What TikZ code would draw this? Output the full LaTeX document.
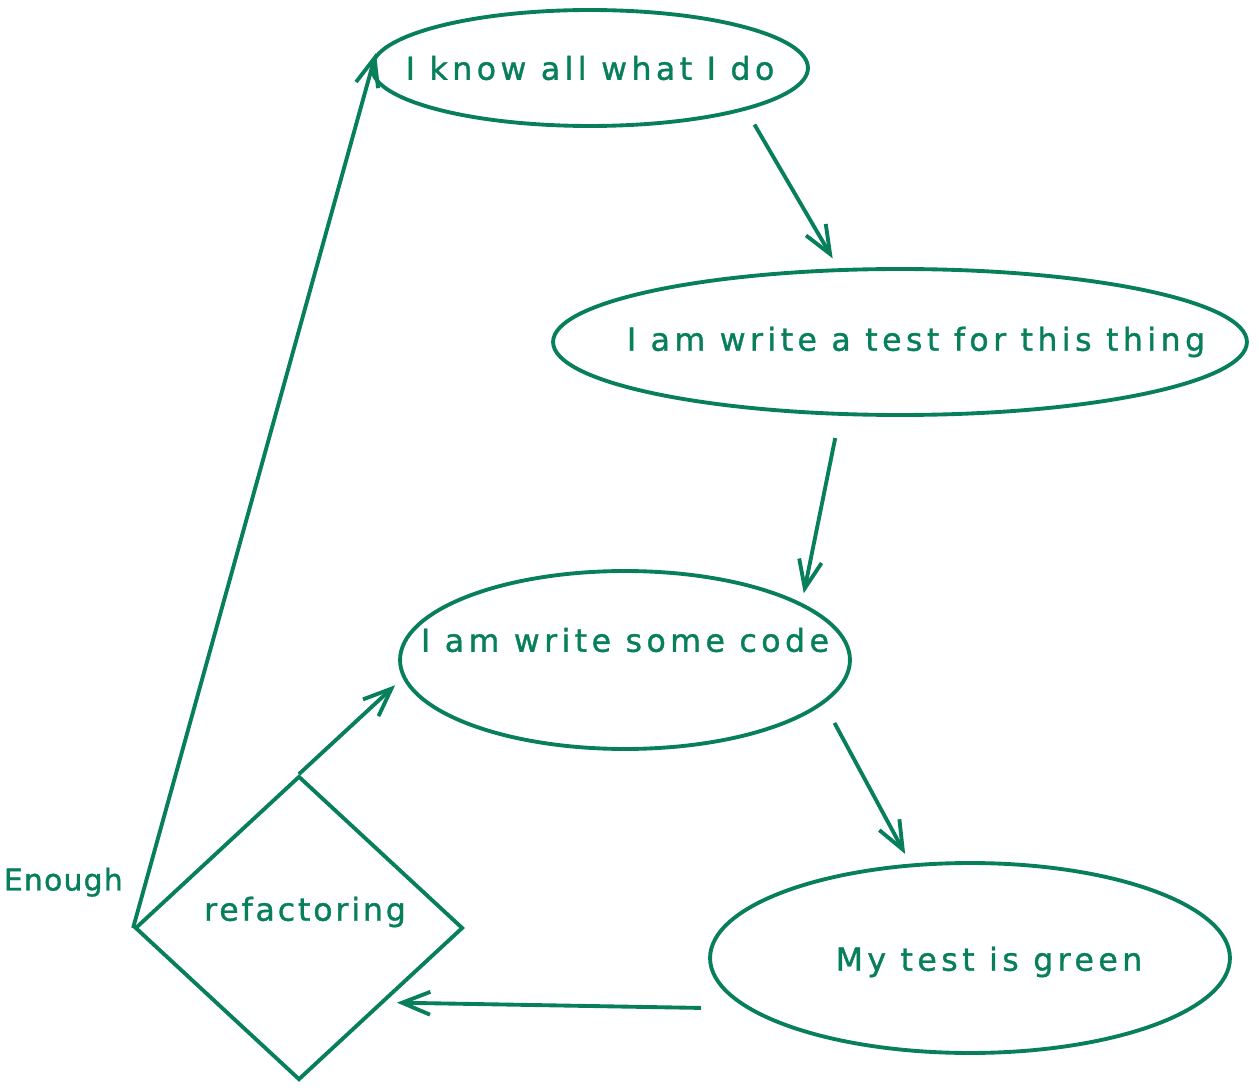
\documentclass[tikz,border=0pt]{standalone}
\usepackage{fontspec}
\setmainfont{DejaVu Sans}[LetterSpace=14, FakeBold=1.2]
\usepackage{tikz}
\usetikzlibrary{shapes, arrows, calc, positioning}
\usetikzlibrary{arrows.meta}
\definecolor{exgreen}{HTML}{087F5B}

\begin{document}
\begin{tikzpicture}[x=0.02cm, y=-0.02cm]

\tikzstyle{txt} = [text=exgreen, font=\fontsize{18}{21}\selectfont]
\tikzstyle{bubble} = [ellipse, draw=exgreen, line width=2.2pt, outer sep=6pt, inner sep=0pt]
\tikzstyle{decision} = [diamond, draw=exgreen, line width=2.2pt, inner sep=0pt]
\tikzstyle{arrow} = [exgreen, line width=2.2pt, -{Straight Barb[length=16pt, width=13pt, line width=2.2pt]}, shorten >=1pt]

\useasboundingbox (0,0) rectangle (1259,1091);

% Make nodes
\node (e1) [bubble, minimum width=8.72cm, minimum height=2.32cm] at (590, 68)
  [label={[txt]center:I know all what I do}] {};
\node (e2) [bubble, minimum width=13.88cm, minimum height=2.92cm] at (900, 342)
  [label={[txt, xshift=0.32cm]center:I am write a test for this thing}] {};
\node (e3) [bubble, minimum width=9cm, minimum height=3.56cm] at (625, 660)
  [label={[txt, yshift=0.4cm]center:I am write some code}] {};
\node (e4) [bubble, minimum width=10.4cm, minimum height=3.8cm] at (970, 958)
  [label={[txt, xshift=0.38cm, yshift=-0.08cm]center:My test is green}] {};
\node (d) [decision, minimum width=6.56cm, minimum height=6.08cm] at (299, 928)
  [label={[txt, xshift=0.12cm, yshift=0.32cm, font=\fontsize{18}{21}\selectfont\addfontfeature{LetterSpace=9}]center:refactoring}] {};

% Loop label
\node (enough) [txt, font=\fontsize{17}{20}\selectfont\addfontfeature{LetterSpace=4},
  anchor=south east, above left=0.62cm and 0.2cm of d.west, inner sep=0pt] {Enough};

% Connect nodes
\draw[arrow, shorten <=5pt] (e1.-17) -- (e2.129);
\draw[arrow, shorten <=8pt] (e2.-127) -- (e3.20);
\draw[arrow, shorten <=8pt] (e3.-14) -- (e4.122);
\draw[arrow, shorten <=18pt, shorten >=7pt] (e4.192) -- (d.-41);
\draw[arrow] (d.north) -- (e3.186);
\draw[arrow, shorten >=-18pt] (d.west) -- (e1.184);

\end{tikzpicture}
\end{document}
